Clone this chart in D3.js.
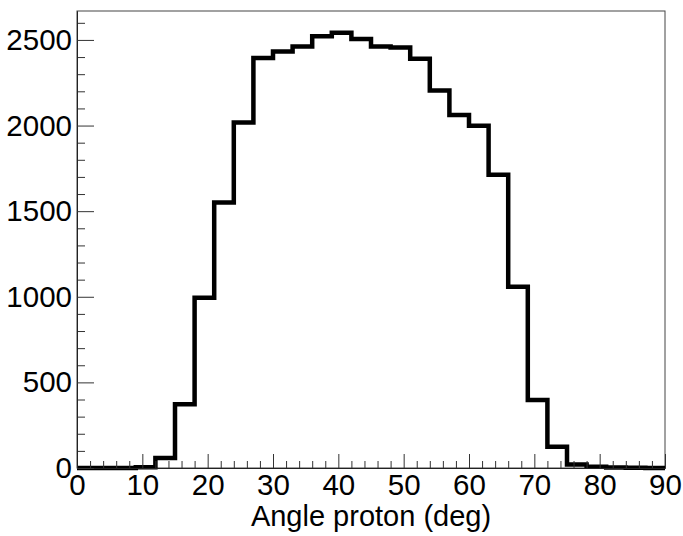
<!DOCTYPE html>
<html>
<head>
<meta charset="utf-8">
<script src="https://cdn.jsdelivr.net/npm/d3@7"></script>
<style>
  html, body { margin: 0; padding: 0; background: #fff; }
  svg { display: block; }
  text { font-family: "Liberation Sans", Arial, Helvetica, sans-serif; }
</style>
</head>
<body>
<svg id="chart" width="683" height="536"></svg>
<script>
// ---- data ----
const binLow  = [0,3,6,9,12,15,18,21,24,27,30,33,36,39,42,45,48,51,54,57,60,63,66,69,72,75,78,81,84,87];
const binHigh = [3,6,9,12,15,18,21,24,27,30,33,36,39,42,45,48,51,54,57,60,63,66,69,72,75,78,81,84,87,90];
const counts  = [0,0,0,5,58,372,994,1550,2018,2395,2432,2461,2522,2542,2506,2462,2456,2390,2204,2062,1999,1712,1058,397,124,20,8,3,1,0];
const xMajorTicks = [0,10,20,30,40,50,60,70,80,90];
const yMajorTicks = [0,500,1000,1500,2000,2500];
const xTitle = "Angle proton (deg)";

// ---- layout ----
const W = 683, H = 536;
const L = 77, R = 665, T = 11, B = 468;
const svg = d3.select("#chart");

const x = d3.scaleLinear().domain([0, 90]).range([L, R]);
const y = d3.scaleLinear().domain([0, 2669]).range([B, T]);

// frame
svg.append("rect")
  .attr("x", L).attr("y", T).attr("width", R - L).attr("height", B - T)
  .attr("fill", "none").attr("stroke", "#444").attr("stroke-width", 1);

// histogram outline
const pts = [];
counts.forEach((c, i) => { pts.push([binLow[i], c]); pts.push([binHigh[i], c]); });
const line = d3.line().x(d => x(d[0])).y(d => y(d[1]));
svg.append("path")
  .attr("d", line(pts))
  .attr("fill", "none").attr("stroke", "#000")
  .attr("stroke-width", 4.5).attr("stroke-linejoin", "miter");

// minor ticks
const xMinor = d3.range(0, 90.001, 2).filter(v => v % 10 !== 0);
const yMinor = d3.range(0, 2669, 100).filter(v => v % 500 !== 0);

const fs = 29.5;

const xAxisMinor = d3.axisBottom(x).tickValues(xMinor).tickSizeInner(-7).tickSizeOuter(0).tickFormat("");
const xAxisMajor = d3.axisBottom(x).tickValues(xMajorTicks).tickSizeInner(-14).tickSizeOuter(0).tickPadding(6).tickFormat(d3.format("d"));
const yAxisMinor = d3.axisLeft(y).tickValues(yMinor).tickSizeInner(-8).tickSizeOuter(0).tickFormat("");
const yAxisMajor = d3.axisLeft(y).tickValues(yMajorTicks).tickSizeInner(-17).tickSizeOuter(0).tickPadding(5).tickFormat(d3.format("d"));

function style(g) {
  g.select(".domain").attr("stroke", "#222").attr("stroke-width", 1);
  g.selectAll(".tick line").attr("stroke", "#333").attr("stroke-width", 1);
  g.selectAll("text").attr("font-size", fs).attr("fill", "#000")
    .attr("font-family", "'Liberation Sans', Arial, Helvetica, sans-serif");
}

svg.append("g").attr("transform", `translate(0,${B})`).call(xAxisMinor).call(style);
svg.append("g").attr("transform", `translate(0,${B})`).call(xAxisMajor).call(style);
svg.append("g").attr("transform", `translate(${L},0)`).call(yAxisMinor).call(style);
svg.append("g").attr("transform", `translate(${L},0)`).call(yAxisMajor).call(style);

// axis title
svg.append("text")
  .attr("x", (L + R) / 2).attr("y", 526)
  .attr("text-anchor", "middle")
  .attr("font-size", 29)
  .attr("fill", "#000")
  .text(xTitle);
</script>
</body>
</html>
